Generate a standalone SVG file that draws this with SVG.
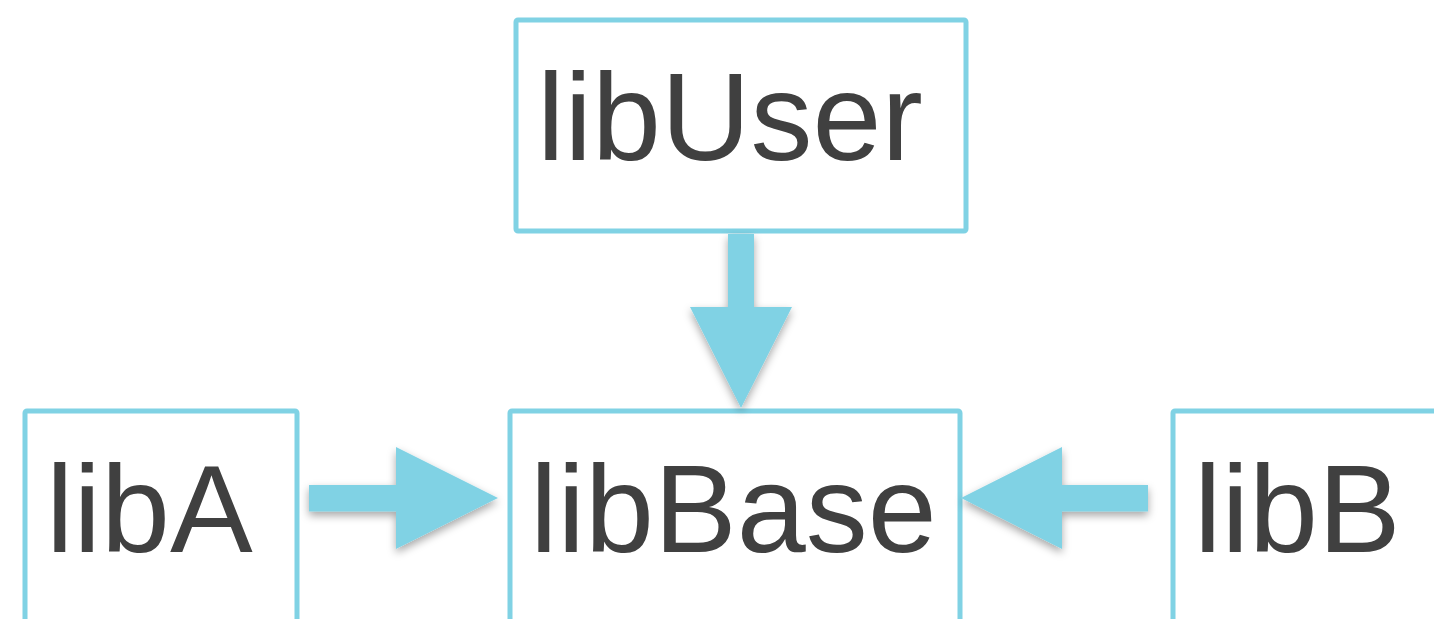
<svg xmlns="http://www.w3.org/2000/svg" width="1434" height="619" viewBox="0 0 1434 619">
<style>
.box{fill:#ffffff;stroke:#80d2e4;stroke-width:5}
.lbl{font-family:"Liberation Sans",Arial,Helvetica,sans-serif;font-size:124px;fill:#404040}
.arr{fill:#80d2e4;filter:url(#sh)}
</style>
<defs>
<filter id="sh" x="-30%" y="-30%" width="160%" height="160%">
<feDropShadow dx="0" dy="4" stdDeviation="4" flood-color="#000000" flood-opacity="0.35"/>
</filter>
</defs>
<rect width="1434" height="619" fill="#ffffff"/>
<g id="libUser">
<rect class="box" x="516" y="20" width="450" height="211" rx="2"/>
<text class="lbl" x="537" y="160">libUser</text>
</g>
<g id="libA">
<rect class="box" x="25" y="411" width="272" height="230" rx="2"/>
<text class="lbl" x="46" y="552">libA</text>
</g>
<g id="libBase">
<rect class="box" x="510" y="411" width="450" height="230" rx="2"/>
<text class="lbl" x="530" y="552">libBase</text>
</g>
<g id="libB">
<rect class="box" x="1173" y="411" width="300" height="230" rx="2"/>
<text class="lbl" x="1194" y="552">libB</text>
</g>
<g id="connectors">
<polygon class="arr" points="728,234 754,234 754,307 792,307 741,408 690,307 728,307"/>
<polygon class="arr" points="309,485 396,485 396,447 498,498 396,549 396,511.5 309,511.5"/>
<polygon class="arr" points="1148,485 1062,485 1062,447 961,498 1062,549 1062,511.5 1148,511.5"/>
</g>
</svg>
